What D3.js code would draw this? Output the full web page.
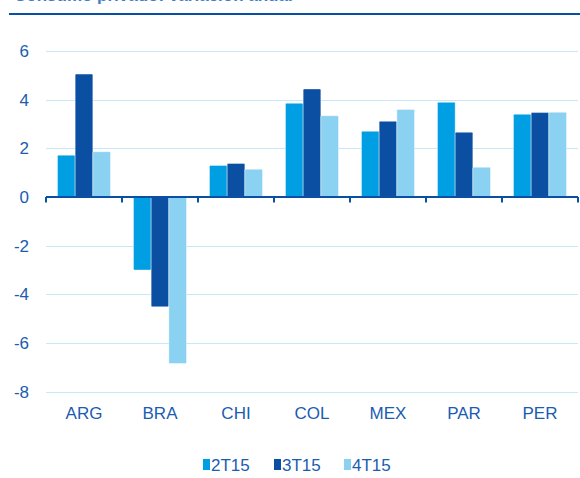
<!DOCTYPE html>
<html>
<head>
<meta charset="utf-8">
<script src="https://cdn.jsdelivr.net/npm/d3@7"></script>
<style>
  html, body { margin: 0; padding: 0; background: #ffffff; }
  svg { display: block; }
  text { font-family: Arial, "Liberation Sans", sans-serif; }
</style>
</head>
<body>
<svg id="chart" width="580" height="478"></svg>
<script>
const categories = ["ARG", "BRA", "CHI", "COL", "MEX", "PAR", "PER"];
const seriesNames = ["2T15", "3T15", "4T15"];
const values2T15 = [1.72, -3.0, 1.30, 3.85, 2.70, 3.89, 3.40];
const values3T15 = [5.05, -4.51, 1.38, 4.44, 3.11, 2.66, 3.47];
const values4T15 = [1.86, -6.84, 1.14, 3.34, 3.60, 1.22, 3.48];
const yTicks = [6, 4, 2, 0, -2, -4, -6, -8];
const seriesColors = ["#009ee2", "#0b4fa3", "#8bd1f1"];
const titleText = "Consumo privado: variación anual";

const seriesValues = [values2T15, values3T15, values4T15];

const svg = d3.select("#chart");
const left = 46, right = 578;

const y = d3.scaleLinear().domain([-8, 6]).range([391.7, 51]);
const x0 = d3.scaleBand().domain(categories).range([left, right]).padding(0);
const x1 = d3.scaleBand().domain(seriesNames).range([0, x0.bandwidth()]).paddingInner(0).paddingOuter(0.65);
const color = d3.scaleOrdinal().domain(seriesNames).range(seriesColors);

// title (cut off at top, as in the reference) and rule
svg.append("text")
  .attr("x", 14).attr("y", 0.5)
  .attr("font-size", 17).attr("font-weight", "bold")
  .attr("fill", "#3b7dc8")
  .text(titleText);
svg.append("line")
  .attr("x1", 9).attr("x2", 580).attr("y1", 14).attr("y2", 14)
  .attr("stroke", "#0b4fa3").attr("stroke-width", 2.2);

// gridlines
svg.append("g").selectAll("line")
  .data(yTicks.filter(d => d !== 0))
  .join("line")
  .attr("x1", left).attr("x2", right)
  .attr("y1", d => Math.round(y(d)) + 0.5).attr("y2", d => Math.round(y(d)) + 0.5)
  .attr("stroke", "#c6e8f8").attr("stroke-width", 1);

// y labels
svg.append("g").selectAll("text")
  .data(yTicks)
  .join("text")
  .attr("x", 29).attr("y", d => y(d))
  .attr("dy", "0.36em")
  .attr("text-anchor", "end")
  .attr("font-size", 17)
  .attr("fill", "#1a5cb0")
  .text(d => d);

// bars
const rows = categories.map((c, i) => ({ cat: c, vals: seriesNames.map((s, j) => ({ s, v: seriesValues[j][i] })) }));
const groups = svg.append("g").selectAll("g")
  .data(rows)
  .join("g")
  .attr("transform", d => `translate(${x0(d.cat)},0)`);
groups.selectAll("rect")
  .data(d => d.vals)
  .join("rect")
  .attr("x", d => x1(d.s))
  .attr("width", x1.bandwidth())
  .attr("y", d => y(Math.max(0, d.v)))
  .attr("height", d => Math.abs(y(d.v) - y(0)))
  .attr("fill", d => color(d.s))
  .attr("stroke", "#ffffff").attr("stroke-width", 0.4)
  .attr("rx", 1);

// x axis line and ticks
const y0 = y(0);
svg.append("line")
  .attr("x1", left).attr("x2", right)
  .attr("y1", y0).attr("y2", y0)
  .attr("stroke", "#0b4fa3").attr("stroke-width", 2);
const boundaries = categories.map(c => x0(c)).concat([right]);
svg.append("g").selectAll("line")
  .data(boundaries)
  .join("line")
  .attr("x1", d => d).attr("x2", d => d)
  .attr("y1", y0).attr("y2", y0 + 5.5)
  .attr("stroke", "#0b4fa3").attr("stroke-width", 2);

// x labels
svg.append("g").selectAll("text")
  .data(categories)
  .join("text")
  .attr("x", d => x0(d) + x0.bandwidth() / 2)
  .attr("y", 419)
  .attr("text-anchor", "middle")
  .attr("font-size", 17)
  .attr("fill", "#1a5cb0")
  .text(d => d);

// legend
const legendX = [203, 274, 344];
const legend = svg.append("g").selectAll("g")
  .data(seriesNames)
  .join("g")
  .attr("transform", (d, i) => `translate(${legendX[i]},0)`);
legend.append("rect")
  .attr("x", 0).attr("y", 459)
  .attr("width", 7).attr("height", 11)
  .attr("fill", d => color(d));
legend.append("text")
  .attr("x", 8).attr("y", 470.5)
  .attr("font-size", 17)
  .attr("fill", "#1a5cb0")
  .text(d => d);
</script>
</body>
</html>
